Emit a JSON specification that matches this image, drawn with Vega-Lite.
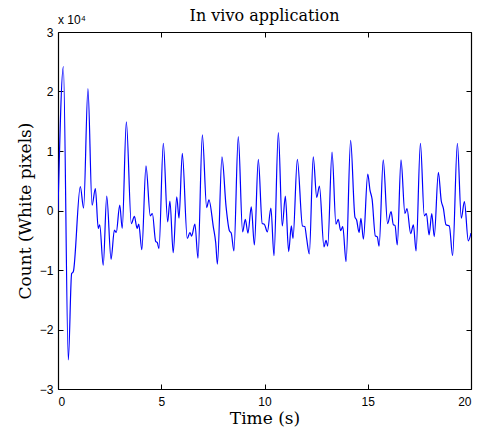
{
  "$schema": "https://vega.github.io/schema/vega-lite/v6.json",
  "width": 413,
  "height": 357,
  "autosize": {"type": "none"},
  "padding": {"left": 58, "top": 32, "right": 7, "bottom": 48},
  "background": "white",
  "title": {"text": "In vivo application", "font": "DejaVu Serif", "fontSize": 16, "fontWeight": "normal", "color": "black", "offset": -8, "dy": 15, "anchor": "middle", "baseline": "alphabetic"},
  "config": {
    "view": {"stroke": null},
    "axis": {
      "grid": false,
      "domainColor": "black",
      "domainWidth": 1.2,
      "tickColor": "black",
      "tickWidth": 1,
      "tickSize": -5,
      "labelFont": "Liberation Sans",
      "labelFontSize": 12,
      "labelColor": "black",
      "titleFont": "DejaVu Serif",
      "titleFontSize": 17,
      "titleFontWeight": "normal",
      "titleColor": "black"
    }
  },
  "data": {"values": [
    {"t": 0.00, "v": 0},
    {"t": 0.26, "v": 24200},
    {"t": 0.50, "v": -25100},
    {"t": 0.66, "v": -10600},
    {"t": 0.74, "v": -10300},
    {"t": 1.08, "v": 4000},
    {"t": 1.24, "v": 400},
    {"t": 1.45, "v": 20500},
    {"t": 1.65, "v": 900},
    {"t": 1.81, "v": 3700},
    {"t": 1.95, "v": -3000},
    {"t": 2.02, "v": -2400},
    {"t": 2.19, "v": -9200},
    {"t": 2.36, "v": 2400},
    {"t": 2.57, "v": -8200},
    {"t": 2.73, "v": -3300},
    {"t": 2.82, "v": -3700},
    {"t": 2.99, "v": 900},
    {"t": 3.11, "v": -3000},
    {"t": 3.31, "v": 14900},
    {"t": 3.55, "v": -2200},
    {"t": 3.70, "v": -1000},
    {"t": 3.83, "v": -3000},
    {"t": 3.91, "v": -2300},
    {"t": 4.06, "v": -6600},
    {"t": 4.26, "v": 7500},
    {"t": 4.47, "v": -900},
    {"t": 4.57, "v": -500},
    {"t": 4.73, "v": -5200},
    {"t": 4.81, "v": -5400},
    {"t": 4.89, "v": -6400},
    {"t": 5.10, "v": 11300},
    {"t": 5.31, "v": -1900},
    {"t": 5.42, "v": 1600},
    {"t": 5.58, "v": -7100},
    {"t": 5.75, "v": 2300},
    {"t": 5.86, "v": -1300},
    {"t": 6.02, "v": 9600},
    {"t": 6.26, "v": -4700},
    {"t": 6.39, "v": -3700},
    {"t": 6.47, "v": -4300},
    {"t": 6.63, "v": -2300},
    {"t": 6.78, "v": -8000},
    {"t": 6.99, "v": 12700},
    {"t": 7.20, "v": 500},
    {"t": 7.31, "v": 1800},
    {"t": 7.52, "v": -2700},
    {"t": 7.64, "v": -5500},
    {"t": 7.72, "v": -9000},
    {"t": 7.94, "v": 9000},
    {"t": 8.14, "v": 600},
    {"t": 8.30, "v": -3400},
    {"t": 8.39, "v": -3800},
    {"t": 8.52, "v": -6800},
    {"t": 8.73, "v": 12400},
    {"t": 8.94, "v": -3600},
    {"t": 9.07, "v": -1500},
    {"t": 9.20, "v": -3800},
    {"t": 9.36, "v": 600},
    {"t": 9.51, "v": -5800},
    {"t": 9.70, "v": 8600},
    {"t": 9.89, "v": -2200},
    {"t": 9.99, "v": -2300},
    {"t": 10.14, "v": -3600},
    {"t": 10.31, "v": 400},
    {"t": 10.46, "v": -7600},
    {"t": 10.67, "v": 13100},
    {"t": 10.86, "v": -2600},
    {"t": 11.01, "v": 2400},
    {"t": 11.17, "v": -6900},
    {"t": 11.30, "v": -2600},
    {"t": 11.38, "v": -4700},
    {"t": 11.59, "v": 8600},
    {"t": 11.84, "v": -2600},
    {"t": 11.95, "v": -2700},
    {"t": 12.04, "v": -4700},
    {"t": 12.17, "v": -7300},
    {"t": 12.36, "v": 9000},
    {"t": 12.53, "v": 2200},
    {"t": 12.66, "v": 4100},
    {"t": 12.88, "v": -6100},
    {"t": 12.98, "v": -5000},
    {"t": 13.06, "v": -6000},
    {"t": 13.27, "v": 9800},
    {"t": 13.46, "v": -2300},
    {"t": 13.57, "v": -1500},
    {"t": 13.69, "v": -3400},
    {"t": 13.79, "v": -2700},
    {"t": 13.95, "v": -8600},
    {"t": 14.17, "v": 11800},
    {"t": 14.38, "v": -1100},
    {"t": 14.46, "v": -1600},
    {"t": 14.58, "v": -3700},
    {"t": 14.67, "v": -1300},
    {"t": 14.79, "v": -4800},
    {"t": 15.00, "v": 6100},
    {"t": 15.11, "v": 3400},
    {"t": 15.21, "v": 1900},
    {"t": 15.37, "v": -4300},
    {"t": 15.46, "v": -4400},
    {"t": 15.55, "v": -6000},
    {"t": 15.75, "v": 8500},
    {"t": 15.96, "v": -2200},
    {"t": 16.13, "v": -200},
    {"t": 16.24, "v": -2400},
    {"t": 16.32, "v": -2500},
    {"t": 16.43, "v": -5800},
    {"t": 16.61, "v": 8500},
    {"t": 16.80, "v": -500},
    {"t": 16.90, "v": 300},
    {"t": 17.08, "v": -3900},
    {"t": 17.21, "v": -2400},
    {"t": 17.34, "v": -6800},
    {"t": 17.55, "v": 11300},
    {"t": 17.74, "v": -900},
    {"t": 17.84, "v": -500},
    {"t": 17.97, "v": -4100},
    {"t": 18.10, "v": -500},
    {"t": 18.22, "v": -4400},
    {"t": 18.42, "v": 6400},
    {"t": 18.56, "v": 1600},
    {"t": 18.66, "v": 400},
    {"t": 18.79, "v": -2400},
    {"t": 18.95, "v": -2600},
    {"t": 19.11, "v": -7600},
    {"t": 19.34, "v": 11300},
    {"t": 19.53, "v": -1300},
    {"t": 19.68, "v": 1500},
    {"t": 19.87, "v": -5100},
    {"t": 20.00, "v": -3800}
  ]},
  "layer": [
    {
      "mark": {"type": "line", "color": "#0000ff", "strokeWidth": 1.2, "interpolate": "monotone", "clip": true},
      "encoding": {
        "x": {"field": "t", "type": "quantitative", "scale": {"domain": [0, 20], "nice": false, "zero": false},
              "axis": {"orient": "bottom", "values": [0, 5, 10, 15, 20], "title": "Time (s)", "labelPadding": 12, "titlePadding": 3}},
        "y": {"field": "v", "type": "quantitative", "scale": {"domain": [-30000, 30000], "nice": false},
              "axis": {"orient": "left", "values": [-30000, -20000, -10000, 0, 10000, 20000, 30000], "labelExpr": "format(datum.value / 10000, 'd')", "title": "Count (White pixels)", "labelPadding": 10, "titlePadding": 5}}
      }
    },
    {
      "data": {"values": [{"label": "x 10⁴"}]},
      "mark": {"type": "text", "align": "left", "baseline": "alphabetic", "dy": -8, "font": "Liberation Sans", "fontSize": 12, "color": "black"},
      "encoding": {
        "text": {"field": "label"},
        "x": {"datum": 0, "type": "quantitative", "axis": {"orient": "top", "values": [0, 5, 10, 15, 20], "labels": false, "title": null}},
        "y": {"datum": 30000, "type": "quantitative", "axis": {"orient": "right", "values": [-30000, -20000, -10000, 0, 10000, 20000, 30000], "labels": false, "title": null}}
      }
    }
  ],
  "resolve": {"axis": {"x": "independent", "y": "independent"}}
}
